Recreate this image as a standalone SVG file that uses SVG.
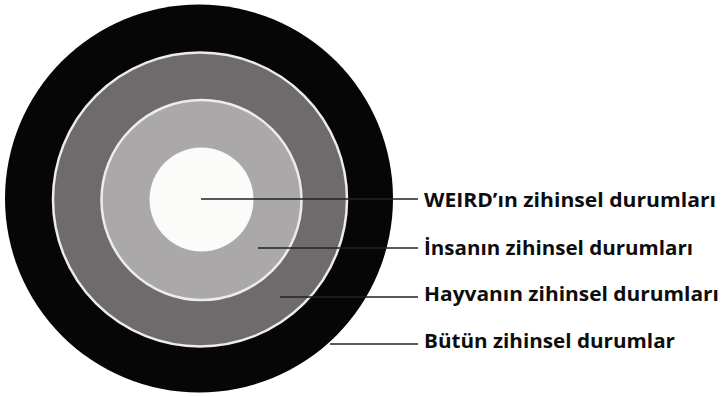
<svg xmlns="http://www.w3.org/2000/svg" width="723" height="397" viewBox="0 0 723 397">
<style>
.lbl{font-family:"Open Sans","Liberation Sans",sans-serif;font-weight:bold;font-size:19.5px;fill:#0d0d0d}
.ring{stroke:#ececec;stroke-width:2.5}
.con{stroke:#222;stroke-width:1.6;fill:none}
</style>
<rect width="723" height="397" fill="#fff"/>
<g id="all"><circle cx="199" cy="198.5" r="194" fill="#060606"/></g>
<g id="animal"><circle cx="200" cy="199.5" r="147" fill="#6f6b6c" class="ring"/></g>
<g id="human"><circle cx="201.5" cy="200" r="100" fill="#aaa8a8" class="ring"/></g>
<g id="weird"><circle cx="201.5" cy="199.5" r="52" fill="#fbfbf9"/></g>
<g id="connectors">
<line class="con" x1="201" y1="199" x2="418" y2="199"/>
<line class="con" x1="258" y1="248" x2="418" y2="248"/>
<line class="con" x1="280" y1="297" x2="418" y2="297"/>
<line class="con" x1="330" y1="344" x2="418" y2="344"/>
</g>
<g id="labels">
<text class="lbl" x="424" y="207" textLength="292" lengthAdjust="spacingAndGlyphs">WEIRD’ın zihinsel durumları</text>
<text class="lbl" x="424" y="255" textLength="269" lengthAdjust="spacingAndGlyphs">İnsanın zihinsel durumları</text>
<text class="lbl" x="424" y="301" textLength="295" lengthAdjust="spacingAndGlyphs">Hayvanın zihinsel durumları</text>
<text class="lbl" x="424" y="348" textLength="251" lengthAdjust="spacingAndGlyphs">Bütün zihinsel durumlar</text>
</g>
</svg>
